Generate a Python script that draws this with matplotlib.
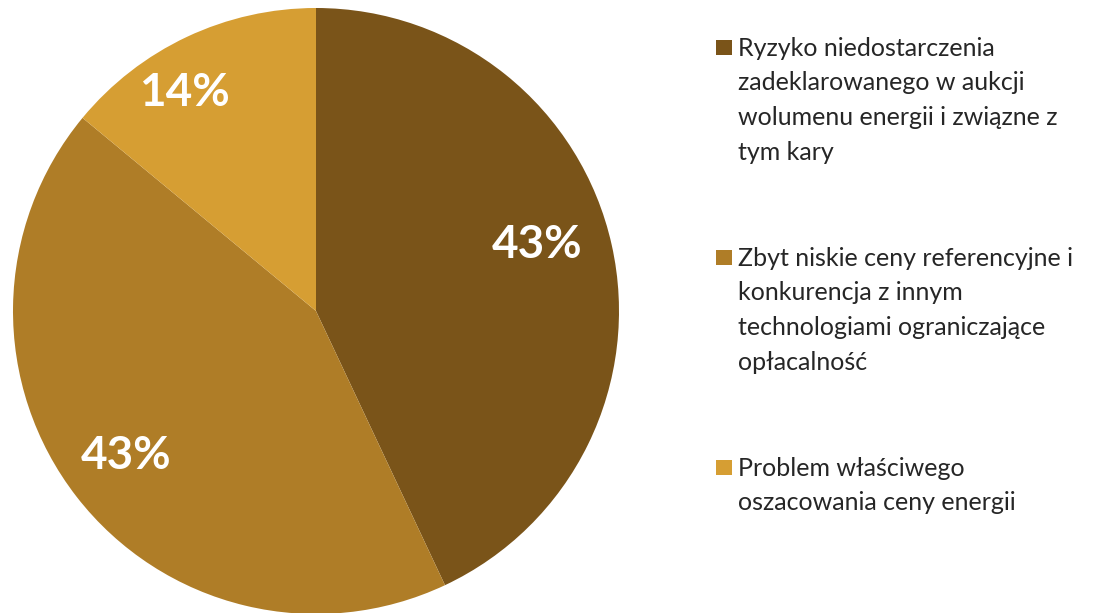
import numpy as np
import matplotlib.pyplot as plt
from matplotlib.patches import Rectangle

plt.rcParams['font.family'] = ['Lato', 'DejaVu Sans']

labels = [
    "Ryzyko niedostarczenia\nzadeklarowanego w aukcji\nwolumenu energii i związne z\ntym kary",
    "Zbyt niskie ceny referencyjne i\nkonkurencja z innym\ntechnologiami ograniczające\nopłacalność",
    "Problem właściwego\noszacowania ceny energii",
]
values = [43, 43, 14]
colors = ['#7A5419', '#AF7D27', '#D69E33']

W, H = 1112, 613
fig = plt.figure(figsize=(W / 100, H / 100), dpi=100)
fig.patch.set_facecolor('white')

# pie axes in pixel terms: centre (316, 311), radius 303
ax = fig.add_axes([13 / W, (H - 614) / H, 606 / W, 606 / H])
wedges, texts, autotexts = ax.pie(
    values, colors=colors, startangle=90, counterclock=False,
    autopct='%.0f%%', pctdistance=0.79, radius=1,
    wedgeprops=dict(linewidth=0),
    textprops=dict(color='white', fontsize=33, fontweight='bold'))
ax.set_xlim(-1, 1)
ax.set_ylim(-1, 1)
ax.set_aspect('equal')
ax.axis('off')

# nudge the percentage labels the way the original placed them
label_r = [0.76, 0.79, 0.84]
label_shift = [4, -0.5, 6]
for w, t, r, d in zip(wedges, autotexts, label_r, label_shift):
    a = np.deg2rad((w.theta1 + w.theta2) / 2 + d)
    t.set_position((r * np.cos(a), r * np.sin(a)))

# legend drawn by hand so the square sits on the first line
baselines = [56, 266, 476]
pitch = 34.5
for lab, col, y in zip(labels, colors, baselines):
    fig.patches.append(Rectangle((716 / W, 1 - (y - 1) / H), 16 / W, 15 / H,
                                 transform=fig.transFigure, facecolor=col,
                                 edgecolor='none'))
    for i, line in enumerate(lab.split('\n')):
        fig.text(738 / W, 1 - (y + i * pitch) / H, line, fontsize=18,
                 color='#262626', va='baseline', ha='left')

fig.savefig('out.png', dpi=100)
